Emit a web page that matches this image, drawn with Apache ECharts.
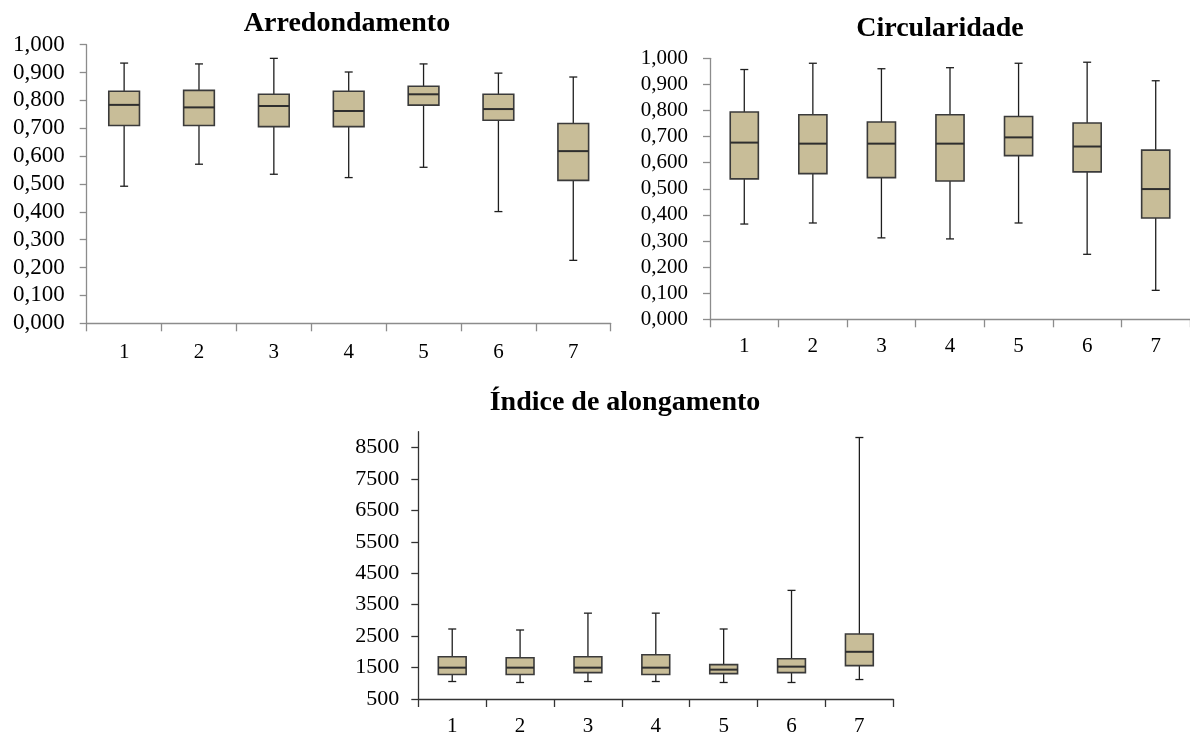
<!DOCTYPE html>
<html>
<head>
<meta charset="utf-8">
<script src="https://cdn.jsdelivr.net/npm/echarts@6/dist/echarts.min.js"></script>
<style>
html,body{margin:0;padding:0;background:#fff;}
#c{width:1190px;height:737px;}
</style>
</head>
<body>
<div id="c"></div>
<script>
// ---- DATA ----
const categories = ['1', '2', '3', '4', '5', '6', '7'];
// each entry: [min, Q1, median, Q3, max]
const arredondamento = [
  [0.492, 0.710, 0.784, 0.833, 0.934],
  [0.571, 0.710, 0.775, 0.836, 0.931],
  [0.535, 0.706, 0.780, 0.822, 0.951],
  [0.523, 0.706, 0.762, 0.833, 0.902],
  [0.560, 0.783, 0.822, 0.851, 0.931],
  [0.401, 0.729, 0.769, 0.822, 0.898],
  [0.226, 0.513, 0.618, 0.717, 0.884]
];
const circularidade = [
  [0.365, 0.538, 0.677, 0.794, 0.957],
  [0.369, 0.558, 0.673, 0.784, 0.981],
  [0.312, 0.543, 0.673, 0.756, 0.960],
  [0.308, 0.530, 0.673, 0.784, 0.964],
  [0.369, 0.627, 0.697, 0.777, 0.981],
  [0.249, 0.565, 0.662, 0.752, 0.985],
  [0.111, 0.388, 0.499, 0.648, 0.914]
];
const alongamento = [
  [1056, 1277, 1497, 1844, 2726],
  [1025, 1277, 1497, 1812, 2694],
  [1056, 1340, 1497, 1844, 3230],
  [1056, 1277, 1497, 1907, 3230],
  [1025, 1308, 1434, 1592, 2726],
  [1025, 1340, 1529, 1781, 3954],
  [1119, 1560, 2001, 2568, 8815]
];
const ratioTicks = [0, 0.1, 0.2, 0.3, 0.4, 0.5, 0.6, 0.7, 0.8, 0.9, 1.0];
const alongTicks = [500, 1500, 2500, 3500, 4500, 5500, 6500, 7500, 8500];
const titles = ['Arredondamento', 'Circularidade', 'Índice de alongamento'];

// ---- CHART ----
const FONT = '"Liberation Serif", "Times New Roman", serif';
const BOX_FILL = '#c8bd98';

function toRows(arr) {
  return arr.map((d, i) => [i].concat(d));
}

function renderBox(params, api) {
  const x = api.value(0);
  const pMin = api.coord([x, api.value(1)]);
  const pQ1 = api.coord([x, api.value(2)]);
  const pMed = api.coord([x, api.value(3)]);
  const pQ3 = api.coord([x, api.value(4)]);
  const pMax = api.coord([x, api.value(5)]);
  const bw = api.size([1, 0])[0] * 0.41;
  const cx = pMed[0];
  const cap = 4;
  const wStyle = { stroke: '#1e1e1e', lineWidth: 1.3 };
  return {
    type: 'group',
    children: [
      { type: 'line', shape: { x1: cx, y1: pMax[1], x2: cx, y2: pQ3[1] }, style: wStyle },
      { type: 'line', shape: { x1: cx, y1: pQ1[1], x2: cx, y2: pMin[1] }, style: wStyle },
      { type: 'line', shape: { x1: cx - cap, y1: pMax[1], x2: cx + cap, y2: pMax[1] }, style: wStyle },
      { type: 'line', shape: { x1: cx - cap, y1: pMin[1], x2: cx + cap, y2: pMin[1] }, style: wStyle },
      { type: 'rect', shape: { x: cx - bw / 2, y: pQ3[1], width: bw, height: pQ1[1] - pQ3[1] },
        style: { fill: BOX_FILL, stroke: '#3a3a3a', lineWidth: 1.6 } },
      { type: 'line', shape: { x1: cx - bw / 2, y1: pMed[1], x2: cx + bw / 2, y2: pMed[1] },
        style: { stroke: '#2e2e2e', lineWidth: 2 } }
    ]
  };
}

function xAxisFor(gi, color, margin) {
  return {
    type: 'category', gridIndex: gi, data: categories,
    axisLine: { lineStyle: { color: color, width: 1.3 } },
    axisTick: { show: true, length: 8, lineStyle: { color: color, width: 1.3 } },
    axisLabel: { color: '#000', fontFamily: FONT, fontSize: 21, margin: margin },
    splitLine: { show: false }
  };
}

function yAxisFor(gi, color, min, max, ticks, fontSize, margin, fmt) {
  return {
    type: 'value', gridIndex: gi, min: min, max: max,
    axisLine: { show: true, lineStyle: { color: color, width: 1.3 } },
    axisTick: { show: true, length: 7, customValues: ticks, lineStyle: { color: color, width: 1.3 } },
    axisLabel: { color: '#000', fontFamily: FONT, fontSize: fontSize, margin: margin,
      customValues: ticks, formatter: fmt },
    splitLine: { show: false }
  };
}

const ratioFmt = v => Number(v).toFixed(3).replace('.', ',');
const intFmt = v => String(Math.round(v));

const titleStyle = { fontFamily: FONT, fontSize: 28, fontWeight: 'bold', color: '#000' };

const option = {
  animation: false,
  backgroundColor: '#fff',
  title: [
    { text: titles[0], left: 347, top: 10, textAlign: 'center', padding: 0, textStyle: titleStyle },
    { text: titles[1], left: 940, top: 15, textAlign: 'center', padding: 0, textStyle: titleStyle },
    { text: titles[2], left: 625, top: 389, textAlign: 'center', padding: 0, textStyle: titleStyle }
  ],
  grid: [
    { left: 86.7, top: 44.7, width: 524, height: 278.6 },
    { left: 710, top: 58.3, width: 480, height: 261 },
    { left: 418.3, top: 431.7, width: 475, height: 268.6 }
  ],
  xAxis: [
    xAxisFor(0, '#8c8c8c', 19),
    xAxisFor(1, '#8c8c8c', 17),
    xAxisFor(2, '#333333', 17)
  ],
  yAxis: [
    yAxisFor(0, '#8c8c8c', 0, 1, ratioTicks, 23, 22, ratioFmt),
    yAxisFor(1, '#8c8c8c', 0, 1, ratioTicks, 21, 22, ratioFmt),
    yAxisFor(2, '#333333', 500, 9000, alongTicks, 22, 19, intFmt)
  ],
  series: [
    { type: 'custom', xAxisIndex: 0, yAxisIndex: 0, renderItem: renderBox,
      encode: { x: 0, y: [1, 2, 3, 4, 5] }, data: toRows(arredondamento) },
    { type: 'custom', xAxisIndex: 1, yAxisIndex: 1, renderItem: renderBox,
      encode: { x: 0, y: [1, 2, 3, 4, 5] }, data: toRows(circularidade) },
    { type: 'custom', xAxisIndex: 2, yAxisIndex: 2, renderItem: renderBox,
      encode: { x: 0, y: [1, 2, 3, 4, 5] }, data: toRows(alongamento) }
  ]
};

const chart = echarts.init(document.getElementById('c'), null, { renderer: 'canvas' });
chart.setOption(option);
</script>
</body>
</html>
